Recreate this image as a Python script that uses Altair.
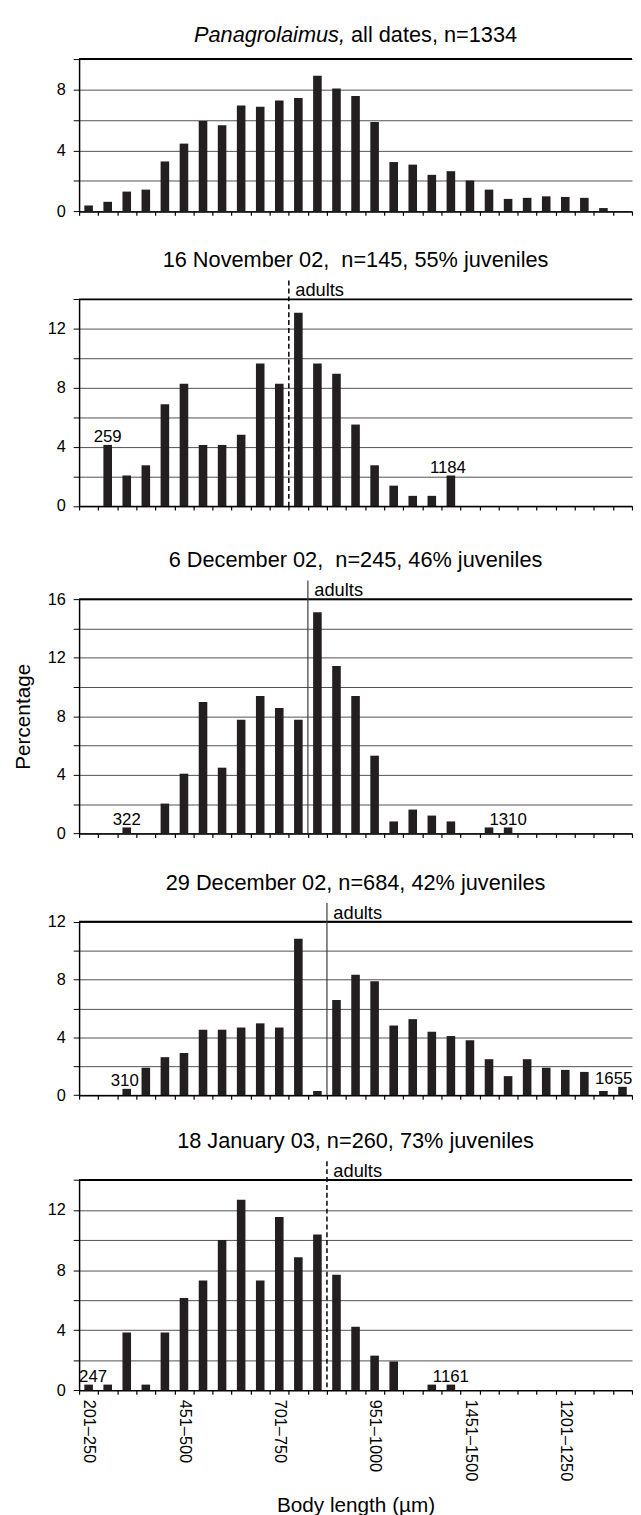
import altair as alt
import pandas as pd

# ---------------- data ----------------
bin_labels = [
    "201–250", "251–300", "301–350", "351–400", "401–450", "451–500",
    "501–550", "551–600", "601–650", "651–700", "701–750", "751–800",
    "801–850", "851–900", "901–950", "951–1000", "1001–1050", "1051–1100",
    "1101–1150", "1151–1200", "1201–1250", "1251–1300", "1301–1350",
    "1351–1400", "1401–1450", "1451–1500", "1501–1550", "1551–1600",
    "1601–1650",
]
# tick labels as printed in the figure (every 5th bin)
x_tick_labels = ["201–250", "451–500", "701–750", "951–1000", "1451–1500", "1201–1250"]

pct_all_dates = [0.39, 0.63, 1.30, 1.43, 3.28, 4.45, 5.94, 5.66, 6.95, 6.87,
                 7.28, 7.45, 8.90, 8.06, 7.58, 5.87, 3.24, 3.07, 2.40, 2.64,
                 2.03, 1.43, 0.82, 0.89, 0.99, 0.95, 0.89, 0.22, 0.0]
pct_16_nov_02 = [0.0, 4.14, 2.07, 2.76, 6.90, 8.28, 4.14, 4.14, 4.83, 9.66,
                 8.28, 13.10, 9.66, 8.97, 5.52, 2.76, 1.38, 0.69, 0.69, 2.07,
                 0.0, 0.0, 0.0, 0.0, 0.0, 0.0, 0.0, 0.0, 0.0]
pct_6_dec_02 = [0.0, 0.0, 0.41, 0.0, 2.04, 4.08, 8.98, 4.49, 7.76, 9.39,
                8.57, 7.76, 15.10, 11.43, 9.39, 5.31, 0.82, 1.63, 1.22, 0.82,
                0.0, 0.41, 0.41, 0.0, 0.0, 0.0, 0.0, 0.0, 0.0]
pct_29_dec_02 = [0.0, 0.0, 0.44, 1.90, 2.63, 2.92, 4.53, 4.53, 4.68, 4.97,
                 4.68, 10.82, 0.29, 6.58, 8.33, 7.89, 4.82, 5.26, 4.39, 4.09,
                 3.80, 2.49, 1.32, 2.49, 1.90, 1.75, 1.61, 0.29, 0.58]
pct_18_jan_03 = [0.38, 0.38, 3.85, 0.38, 3.85, 6.15, 7.31, 10.00, 12.69, 7.31,
                 11.54, 8.85, 10.38, 7.69, 4.23, 2.31, 1.92, 0.0, 0.38, 0.38,
                 0.0, 0.0, 0.0, 0.0, 0.0, 0.0, 0.0, 0.0, 0.0]
series = [pct_all_dates, pct_16_nov_02, pct_6_dec_02, pct_29_dec_02, pct_18_jan_03]

panel_titles = [
    None,
    "16 November 02,\u00a0 n=145, 55% juveniles",
    "6 December 02,\u00a0 n=245, 46% juveniles",
    "29 December 02, n=684, 42% juveniles",
    "18 January 03, n=260, 73% juveniles",
]
title1_italic = "Panagrolaimus,"
title1_rest = "all dates, n=1334"

y_max = [10, 14, 16, 12, 14]

# first bin counted as adults, and line style
adult_bin = [None, "751–800", "801–850", "851–900", "851–900"]
adult_dashed = [None, True, False, False, True]
adult_label = "adults"

# min / max body length annotations
extreme_bins = [[], ["251–300", "1151–1200"], ["301–350", "1301–1350"],
                ["301–350", "1601–1650"], ["201–250", "1151–1200"]]
extreme_texts = [[], ["259", "1184"], ["322", "1310"], ["310", "1655"], ["247", "1161"]]

# ---------------- layout / style ----------------
FONT = "Liberation Sans"
BAR = "#231f20"
W = 560
H = [154.3, 209.3, 237.3, 175.7, 213.0]
EXTRA = [0.0, 8.4, 14.0, 8.7, 5.3]
SPACING = 80
TITLE_SIZE = 22
TICK_SIZE = 16.5
ANNOT_SIZE = 17
ADULT_SIZE = 18.5
extreme_dx = [[], [0, -3], [0, 0], [-2, 10], [4.5, 0]]
extreme_align = [[], ["center", "center"], ["center", "center"], ["center", "right"], ["center", "center"]]


def make_panel(i):
    ymax = y_max[i]
    top = EXTRA[i]
    V = H[i] + top
    last = i == 4

    xscale = alt.Scale(domain=bin_labels, paddingInner=0, paddingOuter=0)
    xa = dict(tickBand="extent", ticks=True, tickSize=4, tickColor="black",
              tickWidth=1.2, domainColor="black", domainWidth=1.5, grid=False)
    if last:
        label_expr = (
            "indexof(" + str(bin_labels) + ", datum.value) % 5 == 0 ? "
            + str(x_tick_labels) + "[indexof(" + str(bin_labels) + ", datum.value) / 5] : ''"
        )
        xa.update(labels=True, labelExpr=label_expr, labelAngle=90, labelFontSize=TICK_SIZE,
                  labelColor="black", labelPadding=5, labelOverlap=False, labelFont=FONT,
                  title="Body length (µm)", titleFontSize=21, titleFontWeight="normal",
                  titleColor="black", titlePadding=14, titleFont=FONT)
    else:
        xa.update(labels=False, title=None)
    xaxis = alt.Axis(**xa)

    yscale = alt.Scale(domain=[0, ymax], range=[V, top], nice=False, zero=True)
    ya = dict(values=list(range(0, ymax + 1, 2)),
              labelExpr="datum.value % 4 == 0 ? datum.label : ''",
              grid=True, gridColor="#505050", gridWidth=1,
              domainColor="black", domainWidth=1.5, tickColor="black",
              tickSize=6, tickWidth=1, labelFontSize=TICK_SIZE, labelColor="black",
              labelPadding=8, labelFont=FONT, labelOverlap=False)
    if i == 2:
        ya.update(title="Percentage", titleFontSize=21, titleFontWeight="normal",
                  titleColor="black", titlePadding=14, titleFont=FONT)
    else:
        ya.update(title=None)
    yaxis = alt.Axis(**ya)

    df = pd.DataFrame({"bin": bin_labels, "pct": series[i]})
    layers = []
    bars = alt.Chart(df).mark_bar(color=BAR, width=alt.RelativeBandSize(0.45)).encode(
        x=alt.X("bin:N", scale=xscale, axis=xaxis),
        y=alt.Y("pct:Q", scale=yscale, axis=yaxis),
    )
    layers.append(bars)

    dummy = pd.DataFrame({"k": [0]})
    border = alt.Chart(dummy).mark_rule(color="black", strokeWidth=2).encode(
        x=alt.value(0), x2=alt.value(W), y=alt.value(top))
    layers.append(border)

    # titles
    title_y = top - 32.5 if i > 0 else top - 17.3
    if i == 0:
        fs = TITLE_SIZE
        w_it = 6.947 * fs
        w_sp = 0.278 * fs
        w_rest = 7.644 * fs
        start = W / 2 - (w_it + w_sp + w_rest) / 2
        t1 = alt.Chart(pd.DataFrame({"t": [title1_italic]})).mark_text(
            font=FONT, fontSize=fs, fontStyle="italic", align="right",
            baseline="alphabetic", color="black").encode(
            text="t:N", x=alt.value(start + w_it), y=alt.value(title_y))
        t2 = alt.Chart(pd.DataFrame({"t": [title1_rest]})).mark_text(
            font=FONT, fontSize=fs, align="left", baseline="alphabetic", color="black").encode(
            text="t:N", x=alt.value(start + w_it + w_sp), y=alt.value(title_y))
        layers += [t1, t2]
    else:
        t = alt.Chart(pd.DataFrame({"t": [panel_titles[i]]})).mark_text(
            font=FONT, fontSize=TITLE_SIZE, align="center", baseline="alphabetic",
            color="black").encode(text="t:N", x=alt.value(W / 2), y=alt.value(title_y))
        layers.append(t)

        # adults line
        adf = pd.DataFrame({"bin": [adult_bin[i]], "t": [adult_label]})
        rule_kw = dict(color="black", strokeWidth=1.5, strokeDash=[5, 3]) if adult_dashed[i] \
            else dict(color="#3a3a3a", strokeWidth=1.2)
        rule = alt.Chart(adf).mark_rule(**rule_kw).encode(
            x=alt.X("bin:N", scale=xscale, axis=xaxis, bandPosition=0),
            y=alt.value(top - 19), y2=alt.value(V))
        lab = alt.Chart(adf).mark_text(font=FONT, fontSize=ADULT_SIZE, align="left",
                                       baseline="alphabetic", dx=6.5, color="black").encode(
            x=alt.X("bin:N", scale=xscale, axis=xaxis, bandPosition=0),
            y=alt.value(top - 3), text="t:N")
        layers += [rule, lab]

        # extremes
        for b, txt, dx, al in zip(extreme_bins[i], extreme_texts[i], extreme_dx[i], extreme_align[i]):
            val = series[i][bin_labels.index(b)]
            edf = pd.DataFrame({"bin": [b], "pct": [val], "t": [txt]})
            et = alt.Chart(edf).mark_text(font=FONT, fontSize=ANNOT_SIZE, align=al,
                                          baseline="alphabetic", dx=dx, dy=-2.5,
                                          color="black").encode(
                x=alt.X("bin:N", scale=xscale, axis=xaxis),
                y=alt.Y("pct:Q", scale=yscale, axis=yaxis),
                text="t:N")
            layers.append(et)

    return alt.layer(*layers).properties(width=W, height=V)


panels = [make_panel(i) for i in range(5)]
chart = alt.vconcat(*panels, spacing=SPACING, bounds="flush").properties(
    padding={"left": 4, "top": 6, "right": 0, "bottom": 0}
).configure(font=FONT).configure_view(strokeWidth=0)

chart.save("out.html", embed_options={"renderer": "svg", "actions": False})
